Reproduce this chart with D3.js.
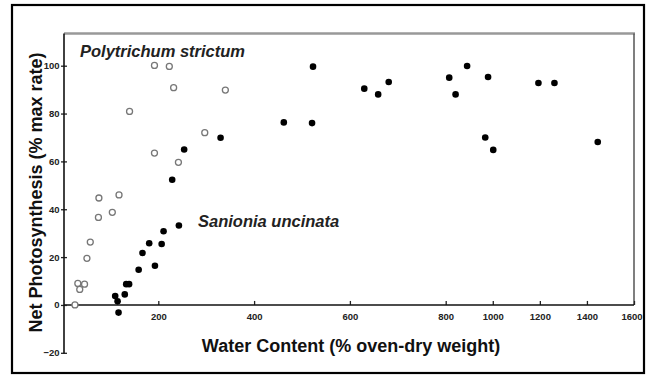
<!DOCTYPE html>
<html>
<head>
<meta charset="utf-8">
<script src="https://cdn.jsdelivr.net/npm/d3@7"></script>
<style>
  html, body { margin: 0; padding: 0; background: #fff; }
  svg { display: block; font-family: "Liberation Sans", Arial, sans-serif; }
</style>
</head>
<body>
<svg id="chart" width="655" height="377"></svg>
<script>
// Polytrichum strictum (open circles): water content (% oven-dry weight), net photosynthesis (% max rate)
const polytrichumWater = [26, 32, 36, 46, 51, 58, 75, 76, 104, 118, 140, 192, 192, 223, 232, 242, 297, 340];
const polytrichumPhoto = [0, 9, 6.5, 8.7, 19.5, 26.3, 36.6, 44.7, 38.7, 46, 80.9, 63.5, 100.1, 99.7, 90.8, 59.6, 72, 89.8];

// Sanionia uncinata (filled circles)
const sanioniaWater = [110, 115, 117, 130, 133, 139, 159, 167, 181, 193, 207, 211, 229, 243, 254, 330, 462, 523, 521,
                       630, 659, 681, 815, 842, 891, 968, 980, 1002, 1194, 1262, 1446];
const sanioniaPhoto = [3.7, 1.5, -3.2, 4.4, 8.7, 8.7, 14.7, 21.7, 25.8, 16.4, 25.5, 30.8, 52.3, 33.2, 65, 69.9, 76.3, 99.6, 76,
                       90.4, 88, 93.2, 95, 88, 99.9, 70, 95.3, 64.8, 92.8, 92.8, 68.1];

// Axis ticks; the water-content axis is broken at 800 and compressed above it
const xTicks = [200, 400, 600, 800, 1000, 1200, 1400, 1600];
const yTicks = [-20, 0, 20, 40, 60, 80, 100];

const svg = d3.select("#chart");

// outer border
svg.append("rect")
  .attr("x", 12).attr("y", 5).attr("width", 632).attr("height", 368)
  .attr("fill", "none").attr("stroke", "#000").attr("stroke-width", 2.2);

const plotLeft = 64, plotRight = 634, plotTop = 33.5;

const x = d3.scaleLinear().domain([0, 800, 1600]).range([62.5, 445.7, plotRight]);
const y = d3.scaleLinear().domain([-20, 100]).range([352.8, 65.7]);

// frame: grey top, right edge down to the zero line
svg.append("line")
  .attr("x1", plotLeft).attr("x2", plotRight + 1).attr("y1", plotTop).attr("y2", plotTop)
  .attr("stroke", "#999").attr("stroke-width", 2.5);
svg.append("line")
  .attr("x1", plotRight).attr("x2", plotRight).attr("y1", plotTop).attr("y2", y(0))
  .attr("stroke", "#555").attr("stroke-width", 1.5);

// x axis along zero with ticks pointing up
const xAxis = svg.append("g")
  .attr("transform", `translate(0,${y(0)})`)
  .call(d3.axisBottom(x).tickValues(xTicks).tickSize(-4).tickPadding(8).tickFormat(d3.format("d")));
xAxis.select(".domain").remove();
xAxis.selectAll(".tick line").attr("stroke", "#222").attr("stroke-width", 1.3);
xAxis.selectAll(".tick text")
  .attr("fill", "#222").style("font-size", "9.5px").style("font-weight", "bold");
// keep the last label clear of the border
xAxis.selectAll(".tick text").filter(d => d === 1600).attr("dx", -2.5);
svg.append("line")
  .attr("x1", plotLeft).attr("x2", plotRight).attr("y1", y(0)).attr("y2", y(0))
  .attr("stroke", "#111").attr("stroke-width", 1.6);

// y axis
const yAxis = svg.append("g")
  .attr("transform", `translate(${plotLeft},0)`)
  .call(d3.axisLeft(y).tickValues(yTicks).tickSize(3).tickPadding(1.5));
yAxis.select(".domain").remove();
yAxis.selectAll(".tick line").attr("x1", 3).attr("stroke", "#222").attr("stroke-width", 1.3);
yAxis.selectAll(".tick text")
  .attr("fill", "#222").style("font-size", "9.5px").style("font-weight", "bold");
svg.append("line")
  .attr("x1", plotLeft).attr("x2", plotLeft).attr("y1", plotTop).attr("y2", y(-20) + 0.7)
  .attr("stroke", "#111").attr("stroke-width", 1.6);

// axis titles
svg.append("text")
  .attr("x", 351).attr("y", 351.5)
  .attr("text-anchor", "middle")
  .style("font-size", "18px").style("font-weight", "bold").attr("fill", "#111")
  .text("Water Content (% oven-dry weight)");
svg.append("text")
  .attr("transform", "translate(42,192.5) rotate(-90)")
  .attr("text-anchor", "middle")
  .style("font-size", "18px").style("font-weight", "bold").attr("fill", "#111")
  .text("Net Photosynthesis (% max rate)");

// species labels
svg.append("text")
  .attr("x", 80).attr("y", 56.7)
  .style("font-size", "16.5px").style("font-weight", "bold").style("font-style", "italic").attr("fill", "#222")
  .text("Polytrichum strictum");
svg.append("text")
  .attr("x", 198).attr("y", 227.3)
  .style("font-size", "16.5px").style("font-weight", "bold").style("font-style", "italic").attr("fill", "#222")
  .text("Sanionia uncinata");

// points
svg.append("g").selectAll("circle")
  .data(polytrichumWater.map((w, i) => [w, polytrichumPhoto[i]]))
  .join("circle")
  .attr("cx", d => x(d[0])).attr("cy", d => y(d[1])).attr("r", 3)
  .attr("fill", "#fff").attr("stroke", "#777").attr("stroke-width", 1.3);

svg.append("g").selectAll("circle")
  .data(sanioniaWater.map((w, i) => [w, sanioniaPhoto[i]]))
  .join("circle")
  .attr("cx", d => x(d[0])).attr("cy", d => y(d[1])).attr("r", 3.3)
  .attr("fill", "#000");
</script>
</body>
</html>
